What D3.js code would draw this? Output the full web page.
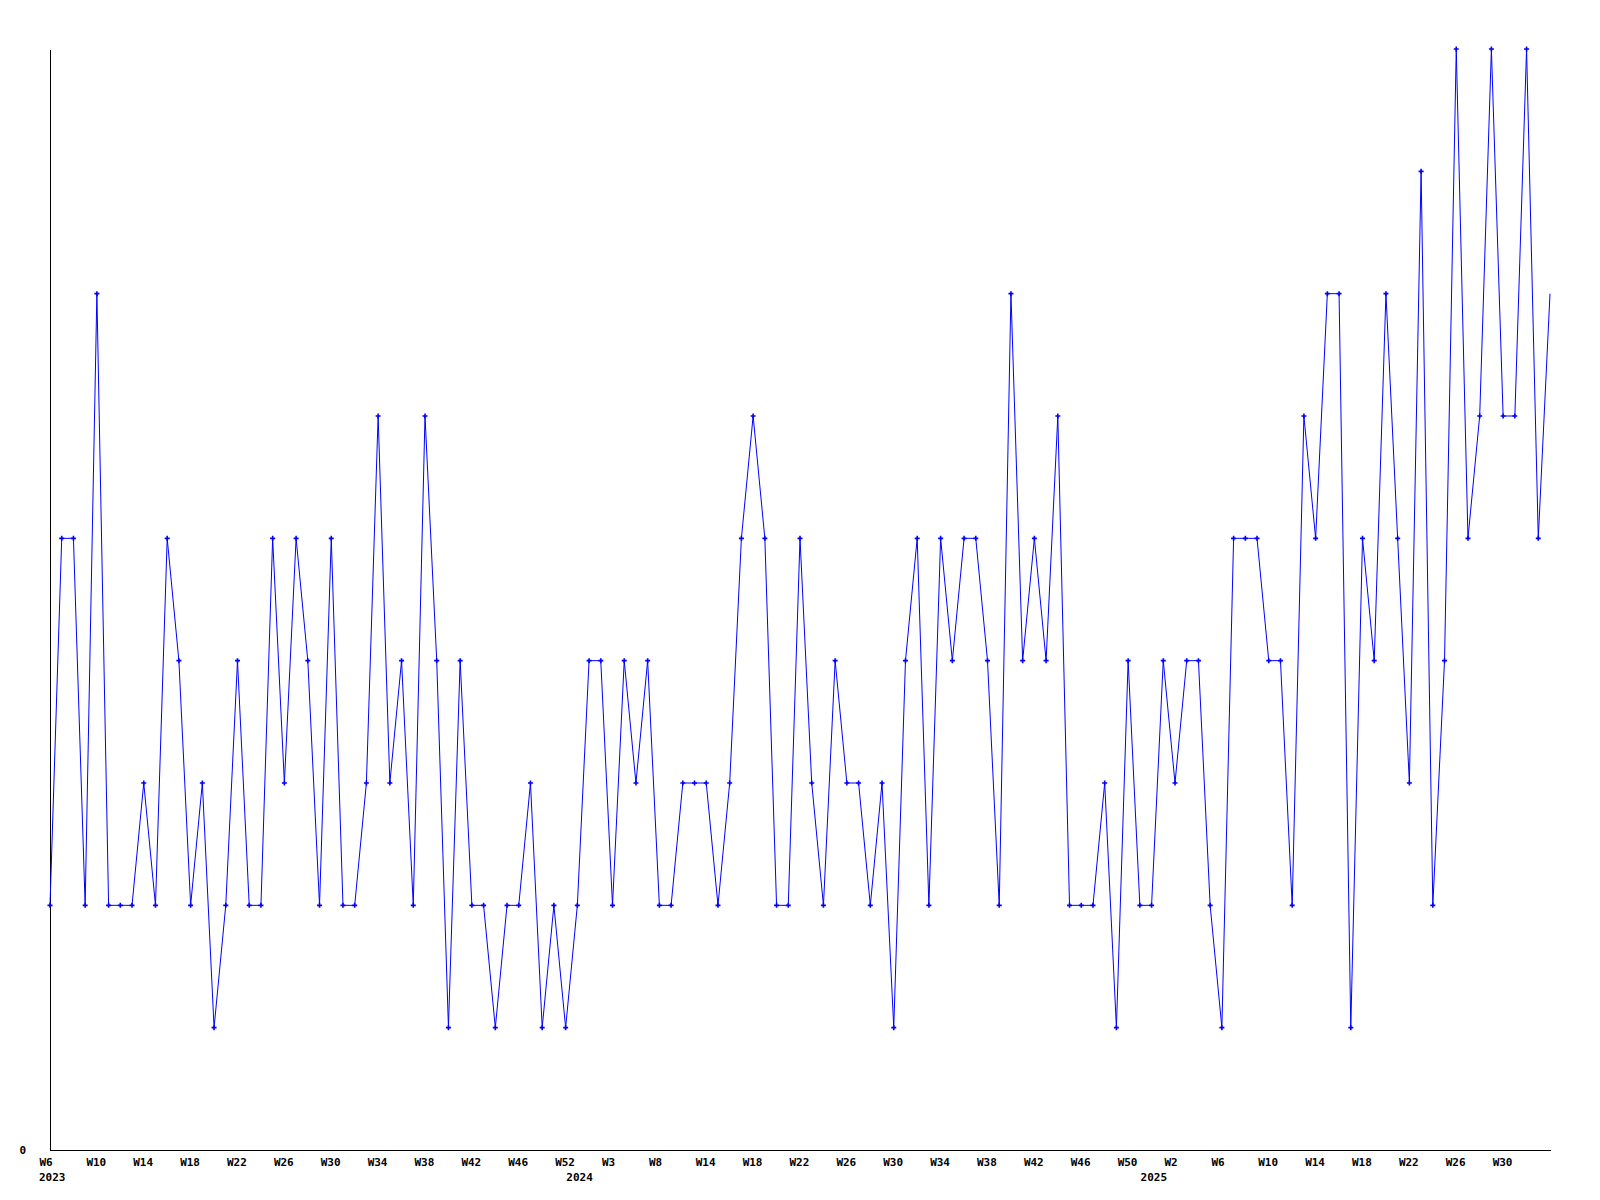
<!DOCTYPE html>
<html>
<head>
<meta charset="utf-8">
<script src="https://cdn.jsdelivr.net/npm/d3@7/dist/d3.min.js"></script>
<style>
  html, body { margin: 0; padding: 0; background: #ffffff; }
  svg { display: block; }
  text { font-family: "DejaVu Sans Mono", "Liberation Mono", monospace; font-weight: bold; font-size: 11px; fill: #000; }
</style>
</head>
<body>
<svg id="chart" width="1600" height="1200"></svg>
<script>
// Weekly values, one per week from W6 2023 onward
const values = [
  2, 5, 5, 2, 7, 2, 2, 2, 3, 2,
  5, 4, 2, 3, 1, 2, 4, 2, 2, 5,
  3, 5, 4, 2, 5, 2, 2, 3, 6, 3,
  4, 2, 6, 4, 1, 4, 2, 2, 1, 2,
  2, 3, 1, 2, 1, 2, 4, 4, 2, 4,
  3, 4, 2, 2, 3, 3, 3, 2, 3, 5,
  6, 5, 2, 2, 5, 3, 2, 4, 3, 3,
  2, 3, 1, 4, 5, 2, 5, 4, 5, 5,
  4, 2, 7, 4, 5, 4, 6, 2, 2, 2,
  3, 1, 4, 2, 2, 4, 3, 4, 4, 2,
  1, 5, 5, 5, 4, 4, 2, 6, 5, 7,
  7, 1, 5, 4, 7, 5, 3, 8, 2, 4,
  9, 5, 6, 9, 6, 6, 9, 5, 7
];
// Week tick labels, one every 4 points
const tickLabels = [
  "W6", "W10", "W14", "W18", "W22", "W26", "W30", "W34", "W38", "W42", "W46", "W52",
  "W3", "W8", "W14", "W18", "W22", "W26", "W30", "W34", "W38", "W42", "W46", "W50",
  "W2", "W6", "W10", "W14", "W18", "W22", "W26", "W30"
];
const tickStep = 4;
// Year labels and the point index where each year starts
const yearLabels = ["2023", "2024", "2025"];
const yearStarts = [0, 45, 94];
const yTickValues = [0];
const yMax = 9;

const svg = d3.select("#chart");
const mLeft = 50, mRight = 1550, mTop = 49, mBottom = 1150;

const x = d3.scaleLinear().domain([0, values.length - 1]).range([mLeft, mRight]);
const y = d3.scaleLinear().domain([0, yMax]).range([mBottom, mTop]);

// Axis lines
svg.append("line")
  .attr("x1", mLeft + 0.5).attr("x2", mLeft + 0.5)
  .attr("y1", mTop + 1).attr("y2", mBottom + 0.5)
  .attr("stroke", "#000").attr("stroke-width", 1).attr("shape-rendering", "crispEdges");
svg.append("line")
  .attr("x1", mLeft).attr("x2", mRight + 1)
  .attr("y1", mBottom + 0.5).attr("y2", mBottom + 0.5)
  .attr("stroke", "#000").attr("stroke-width", 1).attr("shape-rendering", "crispEdges");

// Y axis labels
const yAxis = d3.axisLeft(y).tickValues(yTickValues).tickSize(0).tickPadding(24).tickFormat(d3.format("d"));
const yg = svg.append("g").attr("transform", `translate(${mLeft},0)`).call(yAxis);
yg.select(".domain").remove();
yg.selectAll("text").attr("font-size", null).attr("font-family", null).attr("dy", "0.3em");

// X axis week labels
const tickIdx = tickLabels.map((_, i) => i * tickStep);
const xAxis = d3.axisBottom(x).tickValues(tickIdx).tickSize(0).tickPadding(0)
  .tickFormat((d, i) => tickLabels[i]);
const xg = svg.append("g").attr("transform", `translate(0,${mBottom})`).call(xAxis);
xg.select(".domain").remove();
xg.selectAll("text")
  .attr("font-size", null).attr("font-family", null)
  .attr("text-anchor", "start").attr("x", -11).attr("y", 16).attr("dy", null);

// Year labels
svg.append("g").selectAll("text").data(yearLabels).join("text")
  .attr("x", (d, i) => x(yearStarts[i]) - 11)
  .attr("y", mBottom + 31)
  .text(d => d);

// Line
const line = d3.line().x((d, i) => x(i)).y(d => y(d));
svg.append("path")
  .datum(values)
  .attr("d", line)
  .attr("fill", "none")
  .attr("stroke", "#0000ff")
  .attr("stroke-width", 1);

// Markers (all but the last point)
const markers = values.slice(0, values.length - 1);
svg.append("g").selectAll("path").data(markers).join("path")
  .attr("d", (d, i) => {
    const cx = x(i), cy = y(d);
    return `M${cx - 2.5},${cy}H${cx + 2.5}M${cx},${cy - 2.5}V${cy + 2.5}`;
  })
  .attr("stroke", "#0000ff")
  .attr("stroke-width", 1.6)
  .attr("fill", "none");
</script>
</body>
</html>
